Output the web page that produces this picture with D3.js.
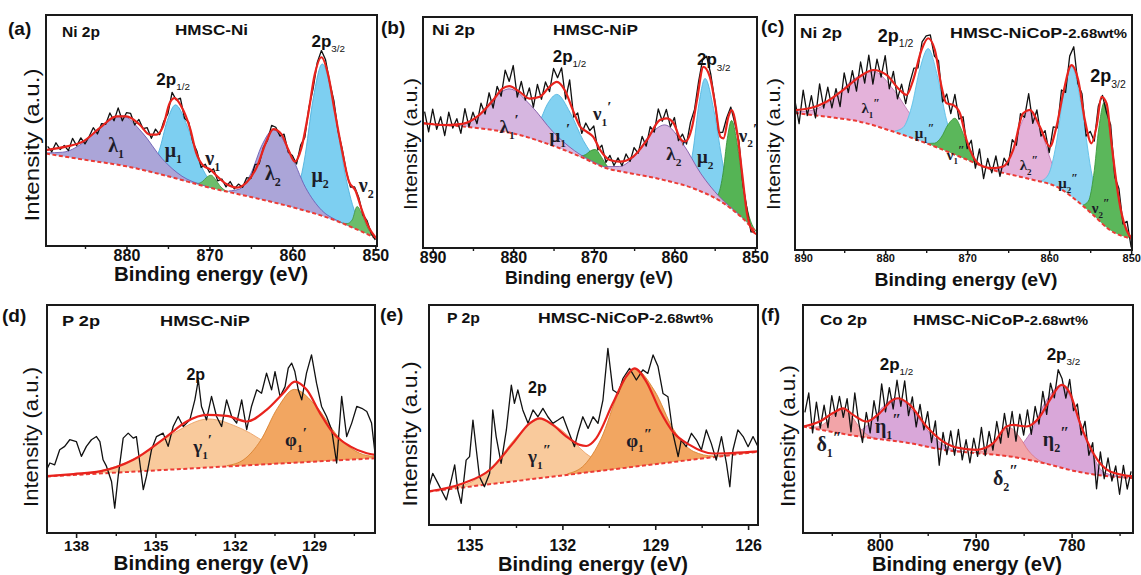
<!DOCTYPE html>
<html>
<head>
<meta charset="utf-8">
<script src="https://cdn.jsdelivr.net/npm/d3@7"></script>
<style>
  body { margin: 0; background: #fff; }
  svg text { font-family: "Liberation Sans", Arial, sans-serif; }
</style>
</head>
<body>
<svg id="fig" width="1141" height="575"></svg>
<script>
// ---------- data (binding energy, intensity in % of plot height) ----------

// (a) Ni 2p, HMSC-Ni
const aBaseline = [[889.7,40],[885,37.3],[880,34.5],[875,30.2],[870,25.3],[865,21.2],[860,16.8],[855,11.3],[852,6.8],[849.8,3.2]];
const aEnvelope = [[889.7,41.5],[889.5,41.6],[887.2,43.1],[885.2,45.3],[883.2,51.1],[881.2,56.1],[880.0,56.1],[878.4,52.5],[877.2,48.2],[876.4,48.2],[875.6,51.7],[874.8,61.8],[874.2,64.0],[873.4,60.5],[872.3,50.5],[871.6,40.4],[870.7,34.6],[869.9,33.2],[869.1,30.3],[867.9,26.7],[866.7,25.3],[865.5,27.6],[864.3,34.1],[863.1,45.6],[862.3,50.6],[861.3,48.3],[860.5,41.8],[859.7,36.5],[858.9,42.6],[858.1,57.0],[857.3,74.3],[856.5,81.7],[855.7,74.3],[854.9,58.4],[854.0,41.1],[853.2,28.1],[852.4,24.0],[851.6,15.3],[850.8,8.1],[850.0,3.8]];
const aMu1 = [[878.0,33.1],[877.03,34.5],[876.05,41.4],[875.08,54.3],[874.1,61.1],[872.67,51.9],[871.25,36.8],[869.82,27.65],[868.4,24.3]];
const aMu2 = [[860.75,18.2],[859.66,21.7],[858.58,36.7],[857.49,63.8],[856.4,78.8],[855.01,61.1],[853.62,30.7],[852.24,12.5],[850.85,5.7],[849.8,3.3]];
const aNu1 = [[871.9,27.2],[871.375,27.1],[870.85,27.9],[870.33,29.75],[869.8,30.65],[869.28,28.85],[868.75,26.1],[868.23,24.35],[867.7,23.5]];
const aNu2 = [[854.6,10.7],[854.0,9.9],[853.4,9.7],[852.8,11.25],[852.2,17.1],[851.6,13.65],[851.0,8.35],[850.4,5.0],[849.8,3.3]];
const aLam1 = [[889.7,40.3],[887.7,40.6],[885.3,44.5],[882.9,52.3],[880.5,56.3],[878.1,49.1],[875.7,37.8],[873.3,30.2],[870.9,26.4],[869.5,24.8]];
const aLam2 = [[867.7,23.8],[866.35,24.7],[865.0,31.4],[863.65,43.8],[862.3,50.3],[860.35,40.9],[858.4,25.2],[856.45,15.4],[854.5,10.85],[852.5,7.5]];
const aRawStart = 889.5, aRawStep = 0.5;
const aRaw = [43.1,40.8,44.7,41.8,43.5,41.3,46.6,43.4,46.8,44.2,47.4,51.2,48.5,53.0,52.7,57.6,54.2,59.8,54.2,57.7,
  57.4,52.4,54.8,50.8,51.2,46.6,50.6,48.2,54.0,57.3,66.5,63.2,64.0,55.3,53.6,45.0,41.0,34.0,35.4,31.9,
  33.4,28.2,29.0,25.6,27.9,24.7,26.8,25.4,29.6,29.2,35.2,35.6,42.6,45.7,52.2,51.4,47.6,48.4,40.6,39.2,
  35.5,43.7,47.0,60.1,68.1,79.5,84.6,80.6,70.8,62.9,49.8,42.1,32.3,25.5,25.6,21.0,13.5,11.0,5.5,2.6];

// (b) Ni 2p, HMSC-NiP
const bBaseline = [[891.2,54],[884.2,51.8],[880,49.6],[875.9,45.3],[871.7,39.6],[868.4,34.5],[865.5,32.4],[861.4,29.5],[857.2,25.2],[853.9,19.4],[851.8,13.7],[849.75,6.5]];
const bEnvelope = [[891.2,54.0],[888.3,53.2],[886.3,53.7],[884.2,57.6],[882.5,64.0],[881.3,69.1],[880.5,70.1],[879.2,67.6],[878.0,64.7],[876.7,65.5],[875.5,69.8],[874.6,71.9],[873.6,68.3],[872.6,59.7],[871.7,52.5],[870.9,50.4],[870.1,48.2],[869.2,42.4],[868.0,38.1],[866.8,37.4],[865.1,39.6],[863.4,46.8],[861.8,55.4],[861.0,56.1],[860.1,54.0],[859.3,47.5],[858.7,46.0],[857.8,52.5],[857.2,64.0],[856.4,78.4],[855.6,74.1],[854.9,61.2],[854.3,48.2],[853.9,47.5],[853.3,56.8],[852.9,59.7],[852.2,49.6],[851.6,32.4],[851.0,15.1],[850.4,7.9],[849.75,5.8]];
const bLam1 = [[889.5,53.5],[887.7,53.1],[885.9,53.8],[884.1,57.95],[882.3,65.15],[880.5,68.9],[877.8,61.65],[875.1,50.4],[872.4,42.1],[869.7,36.7],[868,34.1]];
const bMu1 = [[879.1,48.9],[877.98,49.3],[876.85,53.8],[875.73,62.5],[874.6,66.5],[872.95,58.7],[871.3,46.5],[869.65,38.2],[868.0,34.3]];
const bNu1 = [[872.2,40.4],[871.6,39.9],[871.0,40.45],[870.4,42.1],[869.8,42.65],[869.2,40.2],[868.6,36.75],[868.0,34.3],[867.4,33.8]];
const bLam2 = [[868.7,35.2],[866.83,35.3],[864.95,39.8],[863.08,48.8],[861.2,53.3],[858.95,45.1],[856.7,32.1],[854.45,22.3],[852.2,15.1],[850.5,9.2]];
const bMu2 = [[859.2,27.75],[858.45,30.5],[857.7,41.95],[856.95,62.55],[856.2,73.4],[855.08,59.25],[853.95,35.75],[852.83,20.6],[851.7,13.9],[850.5,9.1]];
const bNu2 = [[855.06,21.8],[854.52,23.6],[853.98,32.0],[853.44,47.3],[852.9,55.2],[852.15,43.75],[851.4,24.8],[850.65,12.8],[849.9,7.4]];
const bRawStart = 891.0, bRawStep = 0.5;
const bRaw = [59.0,50.3,60.1,51.4,56.8,48.7,58.8,51.9,56.0,49.6,60.3,52.5,58.8,53.8,62.7,58.0,67.2,60.6,70.0,65.7,
  77.0,72.1,79.0,65.3,72.1,64.0,69.3,61.0,70.8,64.4,71.9,67.7,77.7,73.7,78.0,64.5,72.8,56.7,58.5,49.6,
  54.1,50.8,52.8,42.5,44.5,37.1,40.1,35.7,39.0,35.6,40.7,37.5,43.5,41.0,48.3,44.1,52.5,50.2,60.2,54.9,
  60.0,52.5,56.5,46.5,49.3,45.0,54.5,60.0,72.0,81.5,83.0,75.5,64.0,50.0,50.1,56.5,61.0,54.0,46.5,27.5,
  17.1,7.0,7.0];

// (c) Ni 2p, HMSC-NiCoP-2.68wt%
const cBaseline = [[891,58.3],[887.15,56.7],[883.09,54.6],[879.02,50.4],[874.96,45.4],[870.89,39.7],[866.83,34.0],[862.76,30.5],[858.7,26.2],[856.26,19.9],[854.63,14.9],[852.6,8.5],[849.9,4.8]];
const cEnvelope = [[891,59.5],[889.2,60.3],[887.15,63.1],[885.12,68.1],[883.09,73.8],[881.46,76.6],[879.84,74.5],[878.21,68.1],[877.4,66.0],[876.59,72.3],[875.57,85.1],[874.76,90.1],[873.94,85.1],[873.13,69.5],[872.52,62.4],[871.71,61.7],[870.89,58.2],[870.08,46.8],[869.27,39.7],[868.05,35.5],[866.83,34.8],[865.61,35.5],[864.39,42.6],[863.17,58.2],[862.36,59.6],[861.14,52.5],[859.92,44.0],[859.11,52.5],[858.29,66.7],[857.28,78.7],[856.46,72.3],[855.65,55.3],[854.84,45.4],[854.23,52.5],[853.62,65.2],[853.0,62.4],[852.4,45.4],[851.79,28.4],[851.18,15.6],[850.57,8.5],[849.96,5.0]];
const cLam1 = [[891,58.7],[889.05,59.35],[886.5,63.9],[883.95,72.45],[881.4,75.9],[878.85,67.6],[876.3,54.55],[873.75,45.55],[871.2,40.35],[869.5,37.7]];
const cMu1 = [[878.81,50.6],[877.8,52.15],[876.79,60.85],[875.77,77.05],[874.76,85.7],[873.64,74.2],[872.51,55.2],[871.39,43.65],[870.26,39.25]];
const cNu1 = [[874.8,45.35],[873.98,45.45],[873.15,48.05],[872.33,53.4],[871.5,56.05],[870.68,51.1],[869.85,43.3],[869.03,38.35],[868.2,36.05]];
const cLam2 = [[866.71,34.2],[865.62,35.3],[864.54,41.6],[863.45,53.4],[862.36,59.6],[861.01,50.95],[859.66,36.8],[858.31,27.55],[856.96,22.0]];
const cMu2 = [[861.03,29.3],[860.09,32.15],[859.16,44.8],[858.22,67.0],[857.28,78.2],[856.08,61.35],[854.88,33.75],[853.68,16.35],[852.48,8.95]];
const cNu2 = [[855.85,19.15],[855.21,20.85],[854.58,31.65],[853.94,52.0],[853.3,62.7],[852.46,47.6],[851.62,24.05],[850.78,10.15],[849.94,5.4]];
const cRawStart = 891.0, cRawStep = 0.5;
const cRaw = [63.5,53.8,68.0,57.2,65.7,56.2,70.7,60.4,69.3,60.5,68.7,61.0,75.4,67.0,76.3,67.6,80.0,71.0,82.9,70.6,
  81.2,73.6,82.7,68.6,76.0,64.3,70.6,62.3,71.1,77.4,77.5,88.6,91.1,91.5,82.5,80.6,63.0,66.4,58.0,66.2,
  55.7,56.7,43.1,46.7,34.8,43.0,30.4,39.0,32.8,40.0,31.3,39.1,36.1,47.0,44.6,58.0,56.5,66.5,53.9,59.6,
  48.5,50.8,41.4,52.4,52.0,68.1,67.1,82.5,86.5,70.8,66.5,48.5,50.5,46.3,61.3,65.8,58.4,53.2,31.1,26.2,
  11.1,12.2,1.1];

// (d) P 2p, HMSC-NiP
const dBaseline = [[139.1,24.8],[126.7,32.8]];
const dEnvelope = [[139.1,24.9],[138.1,25.85],[137.1,27.0],[135.84,32.1],[134.58,42.3],[133.82,48.9],[133.07,51.8],[132.31,51.4],[131.55,48.9],[130.8,54.0],[130.17,61.3],[129.73,66.4],[129.28,62.8],[128.78,52.6],[128.28,43.8],[127.64,38.0],[127.01,35.0],[126.7,34.3]];
const dGam1 = [[139.1,24.85],[138.1,25.7],[136.83,27.95],[135.55,34.0],[134.28,44.0],[133.0,50.0],[131.73,45.65],[130.45,37.3],[129.18,32.9],[127.9,32.25]];
const dPhi1 = [[132.3,29.55],[131.66,32.2],[131.03,40.5],[130.39,54.7],[129.75,63.0],[128.93,55.65],[128.1,42.4],[127.28,35.0],[126.7,33.5]];
const dRaw = [[139.12,27.7],[138.99,30.7],[138.81,29.9],[138.62,36.5],[138.43,38.0],[138.24,40.9],[137.99,40.1],[137.80,33.6],[137.61,38.0],[137.42,40.9],[137.23,42.3],[137.10,40.1],[136.98,32.1],[136.85,29.2],[136.66,22.6],[136.54,10.9],[136.41,24.8],[136.22,41.6],[136.03,43.8],[135.84,41.6],[135.72,42.3],[135.59,30.7],[135.46,19.0],[135.34,24.8],[135.15,36.5],[134.96,42.3],[134.71,43.8],[134.52,38.0],[134.33,46.7],[134.14,51.1],[133.95,46.7],[133.70,49.6],[133.51,58.4],[133.38,67.2],[133.26,55.5],[133.07,49.6],[132.88,59.9],[132.69,51.1],[132.50,46.7],[132.31,58.4],[132.12,51.1],[131.93,48.2],[131.74,58.4],[131.55,45.3],[131.37,55.5],[131.17,62.8],[130.99,61.3],[130.80,70.1],[130.61,62.8],[130.48,70.8],[130.29,59.9],[130.10,64.2],[129.98,72.3],[129.85,74.5],[129.73,70.8],[129.60,62.8],[129.47,58.4],[129.29,70.1],[129.10,78.1],[128.91,65.7],[128.72,55.5],[128.53,51.1],[128.34,45.3],[128.15,30.7],[127.96,59.9],[127.77,42.3],[127.58,48.2],[127.39,55.5],[127.20,54.7],[127.01,53.3],[126.83,48.2],[126.70,35.0]];

// (e) P 2p, HMSC-NiCoP-2.68wt%
const eBaseline = [[136.31,15.2],[125.68,33.3]];
const eEnvelope = [[136.31,15.3],[135.22,18.9],[134.35,25.0],[133.6,37.1],[133.06,46.2],[132.74,48.5],[132.31,45.5],[131.87,40.2],[131.44,36.4],[131.23,35.9],[130.91,39.4],[130.37,55.3],[129.94,67.4],[129.67,71.2],[129.29,65.2],[128.86,52.3],[128.43,42.4],[127.89,36.4],[127.13,32.5],[125.68,33.5]];
const eGam1 = [[136.31,15.25],[135.65,16.6],[134.92,19.65],[134.2,27.5],[133.47,40.2],[132.74,48.0],[131.99,42.75],[131.24,32.5],[130.49,27.2],[129.74,26.7]];
const ePhi1 = [[131.83,23.3],[131.29,27.3],[130.75,39.2],[130.21,59.2],[129.67,71.0],[129.03,61.2],[128.4,43.2],[127.76,33.4],[127.12,31.35],[125.68,33.35]];
const eRaw = [[136.31,17.4],[136.19,23.5],[136.02,18.9],[135.86,14.4],[135.75,11.4],[135.59,20.5],[135.48,27.3],[135.38,15.9],[135.27,9.8],[135.11,29.5],[135.0,31.1],[134.89,47.7],[134.78,34.1],[134.68,22.0],[134.52,17.4],[134.35,23.5],[134.25,52.3],[134.14,40.2],[133.98,28.0],[133.81,43.2],[133.65,63.6],[133.55,55.3],[133.44,61.4],[133.28,52.3],[133.11,46.2],[132.95,52.3],[132.79,49.2],[132.63,53.0],[132.47,49.2],[132.31,46.2],[132.14,47.7],[131.98,49.2],[131.82,43.2],[131.61,35.6],[131.50,41.7],[131.34,49.2],[131.17,43.9],[131.01,49.2],[130.85,46.2],[130.69,56.8],[130.53,80.3],[130.37,61.4],[130.20,59.8],[130.04,66.7],[129.83,71.2],[129.61,65.9],[129.40,70.5],[129.24,68.9],[129.07,77.3],[128.91,72.0],[128.75,59.8],[128.59,58.3],[128.43,41.7],[128.26,31.1],[128.16,38.6],[128.0,35.6],[127.83,41.7],[127.67,38.6],[127.51,34.1],[127.35,43.2],[127.19,37.1],[127.03,29.5],[126.86,40.2],[126.70,28.0],[126.59,17.4],[126.49,34.1],[126.33,43.2],[126.16,40.2],[126.0,35.6],[125.84,40.2],[125.68,35.6]];

// (f) Co 2p, HMSC-NiCoP-2.68wt%
const fBaseline = [[808,46.7],[802.09,42.3],[796.87,39.4],[793.39,36.5],[789.91,35.0],[786.43,33.6],[782.96,30.7],[779.48,27.0],[776.0,24.8],[773.6,24.1]];
const fEnvelope = [[808.0,46.7],[806.26,48.9],[804.87,52.6],[803.83,54.7],[802.78,51.8],[801.39,48.9],[800.0,52.6],[798.61,58.4],[798.09,59.1],[796.87,56.2],[795.13,46.7],[793.39,40.1],[791.65,37.2],[789.91,36.5],[788.17,39.4],[786.78,46.7],[786.09,47.4],[784.7,46.7],[783.3,51.1],[782.26,58.4],[781.04,65.0],[780.17,61.3],[779.13,48.2],[777.74,35.0],[776.0,27.0],[773.6,24.8]];
const fDel1 = [[807.43,46.4],[806.53,46.5],[805.63,48.5],[804.73,52.55],[803.83,54.6],[802.93,51.25],[802.03,45.85],[801.13,42.65],[800.23,41.4]];
const fEta1 = [[803.96,43.9],[802.54,44.15],[801.11,47.95],[799.69,55.3],[798.26,59.2],[796.54,53.5],[794.81,43.9],[793.09,37.9],[791.36,35.8]];
const fDel2 = [[790.33,35.35],[789.36,35.8],[788.38,38.45],[787.41,43.4],[786.43,46.1],[785.46,42.25],[784.48,36.0],[783.51,32.15],[782.53,30.4]];
const fEta2 = [[787.64,34.5],[785.99,36.13],[784.34,43.65],[782.69,57.8],[781.04,64.96],[779.61,54.54],[778.19,37.98],[776.76,27.0],[775.34,25.0],[773.6,24.1]];
const fRawStart = 807.8, fRawStep = 0.4;
const fRaw = [52.9,61.4,43.9,57.4,46.0,56.1,46.2,60.2,51.2,59.9,50.7,58.9,44.4,61.4,48.6,39.7,52.9,43.9,58.0,49.1,
  65.4,53.1,63.8,54.4,67.0,55.6,66.7,51.5,59.7,46.5,56.4,45.2,53.2,39.7,49.2,29.7,44.1,34.4,44.8,34.1,
  45.4,32.1,40.9,30.8,41.6,33.6,46.3,33.9,44.6,36.3,48.9,39.4,52.5,41.9,53.3,40.3,52.1,42.9,54.0,43.3,
  55.5,47.8,62.1,52.0,65.7,59.3,71.6,67.8,59.2,67.4,53.7,56.6,43.0,49.0,34.1,39.6,19.4,35.6,23.8,32.9,
  22.8,29.4,17.0,29.7,19.3,27.0];

// tick values
const aTicks = [880, 870, 860, 850], aMinor = [885, 875, 865, 855];
const bTicks = [890, 880, 870, 860, 850], bMinor = [885, 875, 865, 855];
const cTicks = [890, 880, 870, 860, 850], cMinor = [885, 875, 865, 855];
const dTicks = [138, 135, 132, 129], dMinor = [136.5, 133.5, 130.5, 127.5];
const eTicks = [135, 132, 129, 126], eMinor = [133.5, 130.5, 127.5];
const fTicks = [800, 790, 780], fMinor = [805, 795, 785, 775];

// peak labels: symbol, subscript, prime
const aNames = [['λ','1',''],['μ','1',''],['ν','1',''],['λ','2',''],['μ','2',''],['ν','2','']];
const bNames = [['λ','1','′'],['μ','1','′'],['ν','1','′'],['λ','2','′'],['μ','2',''],['ν','2','′']];
const cNames = [['λ','1','″'],['μ','1','″'],['ν','1','″'],['λ','2','″'],['μ','2','″'],['ν','2','″']];
const dNames = [['γ','1','′'],['φ','1','′']];
const eNames = [['γ','1','″'],['φ','1','″']];
const fNames = [['δ','1','″'],['η','1','″'],['δ','2','″'],['η','2','″']];

// ---------- layout & style ----------
const C = {
  lamA: ['#aba5d8', '#6c5fb6'], muA: ['#7dcff1', '#4fb2de'], nuA: ['#6bbd6b', '#489848'],
  lamB: ['#d6b6e0', '#7f5aa8'], muB: ['#82d1f1', '#52b5e0'], nuB: ['#55b455', '#3a923a'],
  lamC: ['#e4b2da', '#c07ab4'], muC: ['#8fd5f2', '#5cbfe8'], nuC: ['#5bb75b', '#3c983c'],
  gam: ['#f9ca9c', '#eca266'], phi: ['#f2a661', '#d98332'],
  del: ['#f2a4a8', '#e07a86'], eta: ['#d9a7d9', '#b473b4']
};

const panels = [
  { id: 'a', frame: [46, 15, 331, 231], domain: [889.7, 849.8],
    baseline: aBaseline, envelope: aEnvelope, raw: aRaw.map((v, i) => [aRawStart - i * aRawStep, v]),
    comps: [[aMu1, C.muA], [aMu2, C.muA], [aNu1, C.nuA], [aNu2, C.nuA], [aLam1, C.lamA], [aLam2, C.lamA]],
    ticks: aTicks, minor: aMinor, tickFont: 16, tickY: 15,
    xTitle: [211, 281, 194, 20], yTitle: [39, 145, 153, 21], letter: [8, 35, '(a)'],
    head: [[62, 37, 38, 'Ni 2p'], [175, 35, 73, 'HMSC-Ni']],
    names: aNames, namePos: [[882.2, 40.8], [875.4, 38.7], [870.5, 35.1], [863.3, 28.6], [857.7, 27.8], [852.0, 23.5]], gfs: 20,
    peaks: [['1/2', 876.4, 69.7], ['3/2', 857.7, 86.3]], pfs: 17 },
  { id: 'b', frame: [423, 17, 334, 231], domain: [891.2, 849.75],
    baseline: bBaseline, envelope: bEnvelope, raw: bRaw.map((v, i) => [bRawStart - i * bRawStep, v]),
    comps: [[bMu1, C.muB], [bMu2, C.muB], [bNu1, C.nuB], [bNu2, C.nuB], [bLam1, C.lamB], [bLam2, C.lamB]],
    ticks: bTicks, minor: bMinor, tickFont: 16, tickY: 15,
    xTitle: [589, 284, 168, 18], yTitle: [417, 144, 132, 19], letter: [381, 34, '(b)'],
    head: [[432, 35, 43, 'Ni 2p'], [553, 35, 85, 'HMSC-NiP']],
    names: bNames, namePos: [[881.7, 49.6], [875.5, 46.0], [870.1, 55.4], [861.0, 38.1], [857.2, 36.7], [852.0, 46.0]], gfs: 19,
    peaks: [['1/2', 875.1, 80.6], ['3/2', 857.2, 79.1]], pfs: 17 },
  { id: 'c', frame: [795, 15, 337, 235], domain: [891, 849.9],
    baseline: cBaseline, envelope: cEnvelope, raw: cRaw.map((v, i) => [cRawStart - i * cRawStep, v]),
    comps: [[cLam1, C.lamC], [cMu1, C.muC], [cNu1, C.nuC], [cLam2, C.lamC], [cMu2, C.muC], [cNu2, C.nuC]],
    ticks: cTicks, minor: cMinor, tickFont: 11, tickY: 12,
    xTitle: [966, 286, 183, 19], yTitle: [780, 144, 132, 19], letter: [761, 33, '(c)'],
    head: [[800, 38, 42, 'Ni 2p'], [950, 38, 177, 'HMSC-NiCoP-']],
    names: cNames, namePos: [[882.9, 58.2], [876.4, 47.5], [872.5, 38.3], [863.6, 34.0], [858.9, 26.2], [854.8, 15.6]], gfs: 15,
    peaks: [['1/2', 880.9, 88.7], ['3/2', 855.0, 71.6]], pfs: 18 },
  { id: 'd', frame: [47, 305, 328, 228], domain: [139.1, 126.7],
    baseline: dBaseline, envelope: dEnvelope, raw: dRaw,
    comps: [[dGam1, C.gam], [dPhi1, C.phi]],
    ticks: dTicks, minor: dMinor, tickFont: 15, tickY: 18,
    xTitle: [211, 570, 195, 20], yTitle: [38, 437, 140, 20], letter: [2, 322, '(d)'],
    head: [[62, 326, 38, 'P 2p'], [160, 326, 90, 'HMSC-NiP']],
    names: dNames, namePos: [[133.57, 35.0], [130.1, 38.0]], gfs: 19,
    peaks: [['', 133.83, 67.2]], pfs: 16 },
  { id: 'e', frame: [429, 305, 329, 220], domain: [136.31, 125.68],
    baseline: eBaseline, envelope: eEnvelope, raw: eRaw,
    comps: [[eGam1, C.gam], [ePhi1, C.phi]],
    ticks: eTicks, minor: eMinor, tickFont: 16, tickY: 26,
    xTitle: [593, 571, 190, 20], yTitle: [417, 434, 145, 20], letter: [380, 321, '(e)'],
    head: [[447, 323, 33, 'P 2p'], [538, 323, 175, 'HMSC-NiCoP-']],
    names: eNames, namePos: [[133.11, 28.0], [129.94, 35.6]], gfs: 19,
    peaks: [['', 133.11, 59.8]], pfs: 16 },
  { id: 'f', frame: [803, 305, 330, 228], domain: [808, 773.6],
    baseline: fBaseline, envelope: fEnvelope, raw: fRaw.map((v, i) => [fRawStart - i * fRawStep, v]),
    comps: [[fEta1, C.eta], [fEta2, C.eta], [fDel1, C.del], [fDel2, C.del]],
    ticks: fTicks, minor: fMinor, tickFont: 16, tickY: 18,
    xTitle: [967, 571, 190, 20], yTitle: [795, 436, 142, 20], letter: [761, 321, '(f)'],
    head: [[820, 325, 47, 'Co 2p'], [913, 325, 175, 'HMSC-NiCoP-']],
    names: fNames, namePos: [[806.6, 35.8], [800.5, 43.8], [788.2, 21.2], [783.0, 38.0]], gfs: 20,
    peaks: [['1/2', 800.0, 71.5], ['3/2', 782.6, 75.9]], pfs: 17 }
];

// ---------- drawing ----------
const svg = d3.select('#fig');
const defs = svg.append('defs');

function drawPanel(p) {
  const [fx, fy, fw, fh] = p.frame;
  const x = d3.scaleLinear().domain(p.domain).range([fx, fx + fw]);
  const y = d3.scaleLinear().domain([0, 100]).range([fy + fh, fy]);
  const g = svg.append('g').attr('class', 'panel-' + p.id);

  // clip: region above the background line, and the plot frame
  const above = d3.area().x(d => x(d[0])).y0(d => y(d[1])).y1(fy).curve(d3.curveMonotoneX);
  defs.append('clipPath').attr('id', 'above-' + p.id).append('path').attr('d', above(p.baseline));
  defs.append('clipPath').attr('id', 'frame-' + p.id).append('rect')
    .attr('x', fx).attr('y', fy).attr('width', fw).attr('height', fh);

  const line = d3.line().x(d => x(d[0])).y(d => y(d[1])).curve(d3.curveMonotoneX);
  const fill = d3.area().x(d => x(d[0])).y0(fy + fh).y1(d => y(d[1])).curve(d3.curveMonotoneX);

  // fitted components
  const cg = g.append('g').attr('clip-path', `url(#above-${p.id})`);
  p.comps.forEach(([pts, col]) => {
    cg.append('path').attr('d', fill(pts)).attr('fill', col[0]);
    cg.append('path').attr('d', line(pts)).attr('fill', 'none')
      .attr('stroke', col[1]).attr('stroke-width', 0.9);
  });

  const lg = g.append('g').attr('clip-path', `url(#frame-${p.id})`);
  // background
  lg.append('path').attr('d', line(p.baseline)).attr('fill', 'none')
    .attr('stroke', '#ec3b35').attr('stroke-width', 2).attr('stroke-dasharray', '4,2.5');
  // measured spectrum
  lg.append('path').attr('d', d3.line().x(d => x(d[0])).y(d => y(d[1]))(p.raw))
    .attr('fill', 'none').attr('stroke', '#111').attr('stroke-width', 1.3).attr('stroke-linejoin', 'round');
  // envelope
  lg.append('path').attr('d', line(p.envelope)).attr('fill', 'none')
    .attr('stroke', '#e8231d').attr('stroke-width', 2.2);

  // frame
  g.append('rect').attr('x', fx).attr('y', fy).attr('width', fw).attr('height', fh)
    .attr('fill', 'none').attr('stroke', '#1a1a1a').attr('stroke-width', 2);

  // x axis (outward ticks)
  const ax = g.append('g').attr('transform', `translate(0,${fy + fh})`)
    .call(d3.axisBottom(x).tickValues(p.ticks).tickSize(5).tickSizeOuter(0).tickFormat(d3.format('d')));
  ax.select('.domain').remove();
  ax.selectAll('.tick line').attr('stroke', '#1a1a1a').attr('stroke-width', 1.6);
  ax.selectAll('.tick text').attr('dy', 0).attr('y', p.tickY).attr('fill', '#111')
    .style('font-size', p.tickFont + 'px').style('font-weight', 'bold')
    .style('font-family', '"Liberation Sans", Arial, sans-serif');
  const mx = g.append('g').attr('transform', `translate(0,${fy + fh})`)
    .call(d3.axisBottom(x).tickValues(p.minor).tickSize(3).tickSizeOuter(0).tickFormat(''));
  mx.select('.domain').remove();
  mx.selectAll('.tick line').attr('stroke', '#1a1a1a').attr('stroke-width', 1.4);

  // axis titles
  const [tx, ty, tl, ts] = p.xTitle;
  g.append('text').attr('x', tx).attr('y', ty).attr('text-anchor', 'middle')
    .attr('textLength', tl).attr('lengthAdjust', 'spacingAndGlyphs')
    .style('font-size', ts + 'px').style('font-weight', 'bold').attr('fill', '#111')
    .text('Binding energy (eV)');
  const [yx, yy, yl, ys] = p.yTitle;
  g.append('text').attr('transform', `translate(${yx},${yy}) rotate(-90)`).attr('text-anchor', 'middle')
    .attr('textLength', yl).attr('lengthAdjust', 'spacingAndGlyphs')
    .style('font-size', ys + 'px').attr('fill', '#111')
    .text('Intensity (a.u.)');

  // panel letter and headers
  g.append('text').attr('x', p.letter[0]).attr('y', p.letter[1])
    .style('font-size', '19px').style('font-weight', 'bold').attr('fill', '#111').text(p.letter[2]);
  p.head.forEach(([hx, hy, hl, ht]) => {
    const t = g.append('text').attr('x', hx).attr('y', hy).attr('textLength', hl)
      .attr('lengthAdjust', 'spacingAndGlyphs').style('font-weight', 'bold').attr('fill', '#111');
    t.append('tspan').style('font-size', '15px').text(ht);
    if (ht.endsWith('-')) t.append('tspan').style('font-size', '12.5px').text('2.68wt%');
  });

  // peak labels
  p.names.forEach(([sym, sub, pr], i) => {
    const [ex, ey] = p.namePos[i];
    const t = g.append('text').attr('x', x(ex)).attr('y', y(ey)).attr('fill', '#1c1c28')
      .style('font-family', '"Liberation Serif", "Times New Roman", serif')
      .style('font-size', p.gfs + 'px').style('font-weight', 'bold');
    t.append('tspan').text(sym);
    t.append('tspan').text(sub).style('font-size', (p.gfs * 0.6) + 'px').attr('dy', p.gfs * 0.3);
    if (pr) t.append('tspan').text(pr).style('font-size', (p.gfs * 0.8) + 'px').attr('dy', -p.gfs * 0.72);
  });
  p.peaks.forEach(([sub, ex, ey]) => {
    const t = g.append('text').attr('x', x(ex)).attr('y', y(ey)).attr('fill', '#111')
      .style('font-size', p.pfs + 'px').style('font-weight', 'bold');
    t.append('tspan').text('2p');
    if (sub) t.append('tspan').text(sub).style('font-size', (p.pfs * 0.58) + 'px')
      .style('font-weight', 'normal').attr('dy', p.pfs * 0.32);
  });
}

panels.forEach(drawPanel);
</script>
</body>
</html>
